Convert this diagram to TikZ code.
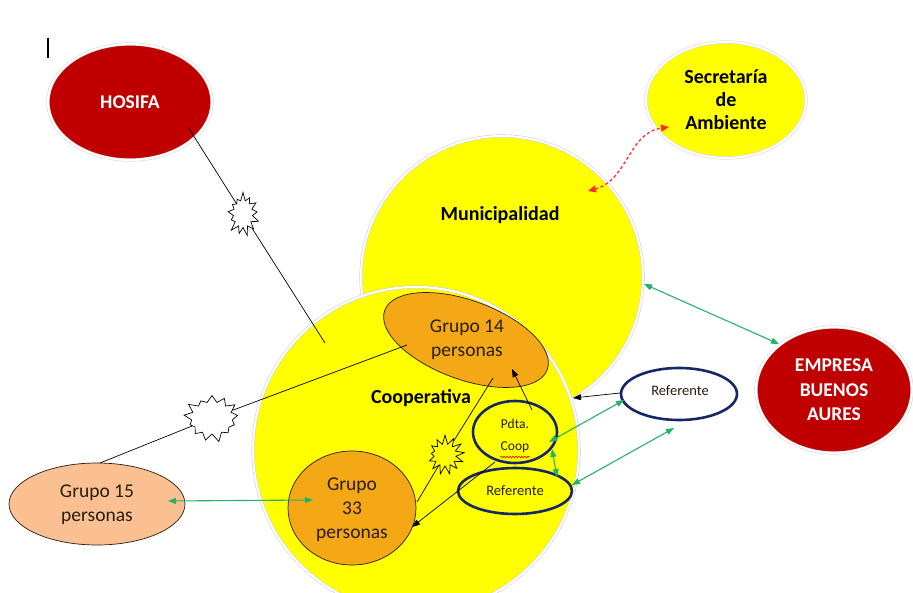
\documentclass[tikz,border=0pt]{standalone}
\usepackage{fontspec}
\setmainfont{Carlito}
\usetikzlibrary{shapes.geometric,shapes.symbols,arrows.meta,decorations.pathmorphing,calc}
\definecolor{ylw}{RGB}{255,255,0}
\definecolor{dred}{RGB}{192,0,0}
\definecolor{org}{RGB}{244,168,22}
\definecolor{salmon}{RGB}{250,192,145}
\definecolor{navy}{RGB}{22,38,105}
\definecolor{grn}{RGB}{36,178,105}
\definecolor{rdash}{RGB}{255,45,45}
\definecolor{txt}{RGB}{40,30,15}
\begin{document}
\begin{tikzpicture}[x=1pt,y=-1pt,
  every node/.style={inner sep=0pt,align=center},
  bigball/.style={circle,fill=ylw,draw=gray!35,double=white,double distance=2pt,line width=0.6pt},
  redball/.style={ellipse,fill=dred,draw=gray!30,double=white,double distance=2pt,line width=0.6pt,text=white,font=\bfseries\fontsize{19.5}{24.5}\selectfont},
  secball/.style={ellipse,fill=ylw,draw=gray!30,double=white,double distance=2pt,line width=0.6pt,font=\bfseries\fontsize{20}{23}\selectfont},
  grp/.style={ellipse,fill=org,draw=txt,line width=0.7pt},
  grptext/.style={text=txt,font=\fontsize{19.5}{24}\selectfont},
  refball/.style={ellipse,draw=navy,line width=2.6pt},
  reftext/.style={text=txt,font=\fontsize{14.5}{22}\selectfont},
  bigtext/.style={font=\bfseries\fontsize{20}{24}\selectfont},
  burst/.style={starburst,draw=black,line width=0.7pt,starburst points=13,starburst point height=9pt},
  conn/.style={draw=black,line width=0.7pt},
  arr/.style={conn,-{Triangle[length=8pt,width=6pt]}},
  garr/.style={draw=grn,line width=1.1pt,{Triangle[length=8pt,width=6pt]}-{Triangle[length=8pt,width=6pt]}},
  rarr/.style={draw=rdash,line width=1.3pt,dashed,dash pattern=on 3pt off 2.5pt,{Triangle[length=8pt,width=7pt]}-{Triangle[length=8pt,width=7pt]}}
]
\clip (0,0) rectangle (913,593);
\fill[white] (0,0) rectangle (913,593);

% big circles
\node[bigball,minimum size=282pt] (mun) at (502,277) {};
\node[bigtext] (munt) at (500,215) {Municipalidad};
\node[bigball,minimum size=326pt] (coop) at (416,450) {};
\node[bigtext] (coopt) at (421,398) {Cooperativa};

% outer nodes
\node[redball,minimum width=164pt,minimum height=116pt] (hos) at (130,102) {HOSIFA};
\node[secball,minimum width=160pt,minimum height=116pt] (sec) at (726,100) {Secretaría\\de\\Ambiente};
\node[redball,minimum width=156pt,minimum height=126pt] (emp) at (834,390) {EMPRESA\\BUENOS\\AURES};

% groups
\node[grp,fill=salmon,minimum width=176pt,minimum height=82pt] (g15) at (97,504) {};
\node[grptext] (g15t) at (97,505) {Grupo 15\\personas};
\node[grp,rotate=-20,minimum width=173pt,minimum height=79pt] (g14) at (466,340) {};
\node[grptext] (g14t) at (467,340) {Grupo 14\\personas};
\node[grp,minimum width=128pt,minimum height=114pt] (g33) at (352,508) {};
\node[grptext] (g33t) at (352,510) {Grupo\\33\\personas};

% referentes
\node[refball,minimum width=84pt,minimum height=62pt] (pdt) at (515,432) {};
\node[reftext,font=\fontsize{13.5}{22}\selectfont] (pdtt) at (515,436) {Pdta.\\Coop};
\node[refball,minimum width=114pt,minimum height=46pt] (refi) at (515,491) {};
\node[reftext] (refit) at (515,491) {Referente};
\node[refball,fill=white,minimum width=116pt,minimum height=52pt] (refo) at (679,394) {};
\node[reftext] (refot) at (680,391) {Referente};
\draw[red,line width=0.6pt,decorate,decoration={snake,amplitude=0.9pt,segment length=3pt}]
  ($(pdtt.center)+(-15,21)$) -- ($(pdtt.center)+(15,21)$);

% bursts
\node[burst,fill=white,minimum width=37pt,minimum height=45pt,random starburst=7] (b1) at (243,214) {};
\node[burst,fill=white,minimum width=59pt,minimum height=50pt,random starburst=21] (b2) at (212,418) {};
\node[burst,minimum width=40pt,minimum height=40pt,random starburst=33] (b3) at (445,455) {};

% cursor mark
\draw[line width=1.6pt] (48,38) -- (48,58);

% coordinates for connector ends
\coordinate (h1) at (188,127);
\coordinate (h2) at (325,343);
\coordinate (g15a) at (100,463);
\coordinate (g14a) at (407,345);
\coordinate (g14b) at (493,378);
\coordinate (g33a) at (417,502);
\coordinate (g33b) at (412,527);
\coordinate (pdta) at (495,462);
\coordinate (pdtb) at (532,410);
\coordinate (g14c) at (512,369);
\coordinate (refoa) at (620,393);
\coordinate (coopa) at (573,398);
\coordinate (g15b) at (168,501);
\coordinate (g33c) at (313,500);
\coordinate (refob) at (624,400);
\coordinate (pdtc) at (549,442);
\coordinate (pdtd) at (552,449);
\coordinate (refia) at (557,477);
\coordinate (refoc) at (674,428);
\coordinate (refib) at (572,485);
\coordinate (muna) at (644,284);
\coordinate (empa) at (779,344);
\coordinate (munb) at (588,191);
\coordinate (seca) at (669,127);

% black connectors
\draw[conn] (h1) -- (b1) -- (h2);
\draw[conn] (g15a) -- (b2) -- (g14a);
\draw[conn] (g14b) -- (b3) -- (g33a);
\draw[arr] (pdta) -- (g33b);
\draw[arr] (pdtb) -- (g14c);
\draw[arr] (refoa) -- (coopa);

% green connectors
\draw[garr] (g15b) -- (g33c);
\draw[garr] (refob) -- (pdtc);
\draw[garr] (pdtd) -- (refia);
\draw[garr] (refoc) -- (refib);
\draw[garr] (muna) -- (empa);

% red dashed
\draw[rarr] (munb) .. controls (628,180) and (628,133) .. (seca);
\end{tikzpicture}
\end{document}
